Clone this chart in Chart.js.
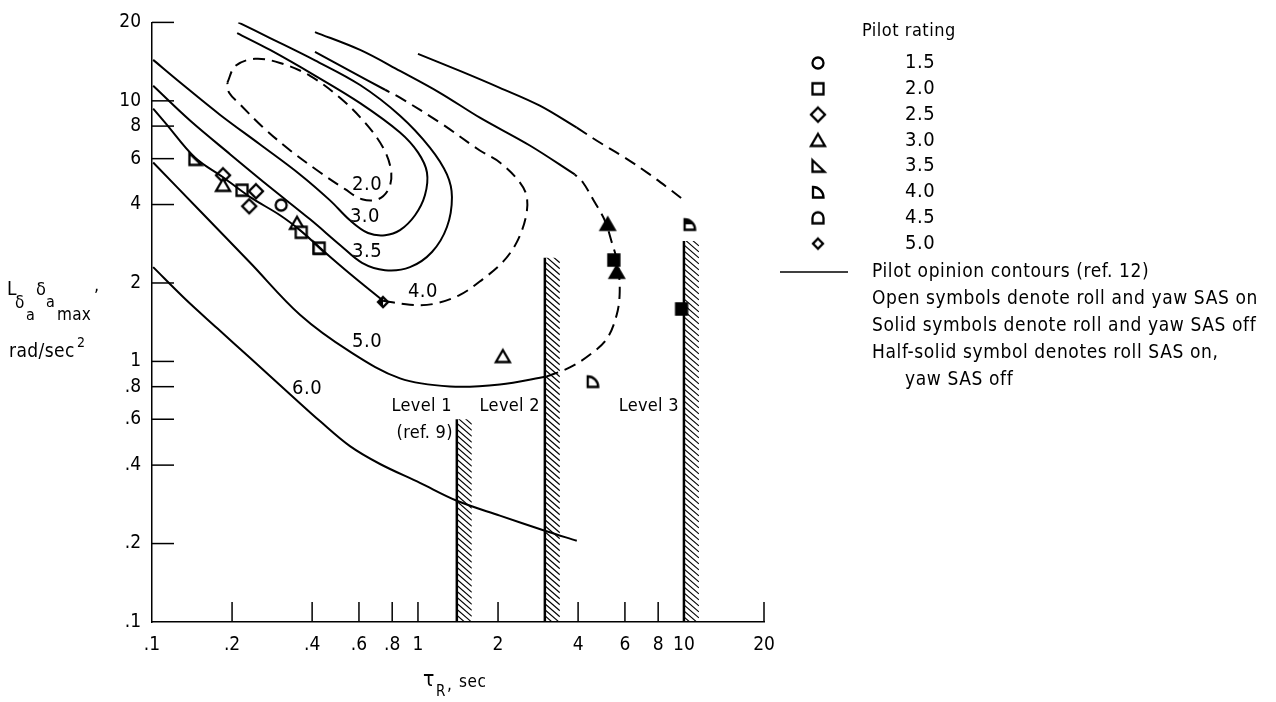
<!DOCTYPE html>
<html>
<head>
<meta charset="utf-8">
<script src="https://cdn.jsdelivr.net/npm/chart.js@4.4.1/dist/chart.umd.min.js"></script>
<style>
  html, body { margin: 0; padding: 0; background: #fff; }
  canvas { display: block; }
</style>
</head>
<body>
<canvas id="myChart" width="1276" height="702"></canvas>
<script>
var FONT = '"DejaVu Sans Condensed", "Liberation Sans Narrow", "Liberation Sans", sans-serif';

// axis ticks (log-log, both axes)
var xTickVals = [0.1, 0.2, 0.4, 0.6, 0.8, 1, 2, 4, 6, 8, 10, 20];
var xTickLabels = ['.1', '.2', '.4', '.6', '.8', '1', '2', '4', '6', '8', '10', '20'];
var yTickVals = [0.1, 0.2, 0.4, 0.6, 0.8, 1, 2, 4, 6, 8, 10, 20];
var yTickLabels = ['.1', '.2', '.4', '.6', '.8', '1', '2', '4', '6', '8', '10', '20'];

// pilot ratings shown in the key
var ratings = ['1.5', '2.0', '2.5', '3.0', '3.5', '4.0', '4.5', '5.0'];

// open symbols: roll and yaw SAS on
var onTau    = [0.145, 0.185, 0.185, 0.218, 0.246, 0.232, 0.306, 0.351, 0.364, 0.425, 0.425, 2.085, 4.54];
var onL      = [5.96, 5.18, 4.74, 4.54, 4.50, 3.94, 3.98, 3.39, 3.13, 2.72, 2.72, 1.044, 0.838];
var onRating = ['3.5', '2.5', '3.0', '2.0', '2.5', '2.5', '1.5', '3.0', '2.0', '2.0', '3.5', '3.0', '4.0'];

// solid symbols: roll and yaw SAS off
var offTau    = [5.17, 5.45, 5.59, 9.8];
var offL      = [3.36, 2.45, 2.20, 1.59];
var offRating = ['3.0', '2.0', '3.0', '2.0'];

// half-solid symbols: roll SAS on, yaw SAS off
var halfTau    = [0.739, 10.5];
var halfL      = [1.69, 3.36];
var halfRating = ['5.0', '4.0'];

// pilot opinion contours [tau, L]
var c20 = [[0.192, 11.73], [0.206, 13.62], [0.244, 14.49], [0.303, 13.98], [0.393, 12.47], [0.509, 10.28],
           [0.632, 8.25], [0.739, 6.62], [0.792, 5.41], [0.778, 4.62], [0.708, 4.19], [0.616, 4.19],
           [0.532, 4.58], [0.429, 5.31], [0.331, 6.45], [0.260, 7.96], [0.215, 9.66], [0.195, 10.74], [0.192, 11.73]];
var c30 = [[0.101, 14.36], [0.128, 11.73], [0.180, 8.85], [0.255, 6.80], [0.360, 5.22], [0.467, 4.15],
           [0.555, 3.48], [0.649, 3.11], [0.752, 3.05], [0.856, 3.19], [0.975, 3.64], [1.062, 4.34],
           [1.081, 5.31], [1.000, 6.34], [0.856, 7.56], [0.606, 9.80], [0.410, 12.50], [0.278, 15.68], [0.209, 18.20]];
var c35 = [[0.101, 11.42], [0.139, 8.40], [0.197, 6.23], [0.278, 4.66], [0.393, 3.51], [0.509, 2.80],
           [0.616, 2.39], [0.752, 2.24], [0.933, 2.30], [1.129, 2.63], [1.285, 3.28], [1.342, 4.27],
           [1.285, 5.22], [1.109, 6.62], [0.856, 8.77], [0.606, 11.50], [0.410, 14.30], [0.278, 17.42], [0.211, 20.0]];
var c40Solid = [[0.101, 9.33], [0.112, 8.25], [0.145, 6.06], [0.185, 5.09], [0.234, 4.27], [0.303, 3.64],
                [0.360, 3.19], [0.429, 2.72], [0.555, 2.17], [0.739, 1.71]];
var c40Dashed = [[0.739, 1.71], [0.933, 1.65], [1.138, 1.66], [1.438, 1.80], [1.754, 2.07], [2.086, 2.41],
                 [2.353, 2.87], [2.544, 3.58], [2.566, 4.27], [2.415, 4.87], [2.032, 5.80], [1.709, 6.45],
                 [1.209, 8.25], [0.856, 10.28], [0.752, 11.03]];
var c40Upper = [[0.752, 11.03], [0.555, 13.03], [0.410, 15.40]];
var c50Solid = [[0.101, 5.80], [0.152, 3.77], [0.234, 2.39], [0.360, 1.51], [0.555, 1.09], [0.856, 0.861],
                [1.319, 0.802], [2.032, 0.816], [3.051, 0.876]];
var c50Dashed = [[3.051, 0.876], [3.723, 0.948], [4.425, 1.06], [5.126, 1.22], [5.588, 1.51], [5.735, 1.85],
                 [5.636, 2.37], [5.352, 2.87], [5.038, 3.48], [4.620, 4.08], [4.166, 4.87], [3.887, 5.22]];
var c50Upper = [[3.887, 5.22], [2.634, 6.74], [1.709, 8.62], [1.209, 10.74], [0.856, 13.03], [0.606, 15.68], [0.410, 18.36]];
var c60Lower = [[0.101, 2.30], [0.133, 1.74], [0.176, 1.34], [0.234, 1.03], [0.331, 0.747], [0.429, 0.589],
                [0.555, 0.473], [0.720, 0.404], [1.017, 0.342], [1.401, 0.292], [2.032, 0.256], [3.00, 0.224], [3.955, 0.205]];
var c60Upper = [[1.000, 15.14], [1.438, 13.03], [2.032, 11.22], [2.872, 9.58], [3.955, 7.89]];
var c60UpperDashed = [[3.955, 7.89], [4.825, 6.92], [5.988, 6.06], [7.433, 5.22], [8.837, 4.58], [10.24, 4.08]];

// contour labels and where they sit
var contourLabels = ['2.0', '3.0', '3.5', '4.0', '5.0', '6.0'];
var contourLabelTau = [0.644, 0.632, 0.644, 1.044, 0.644, 0.383];
var contourLabelL = [4.78, 3.58, 2.63, 1.85, 1.19, 0.788];

// handling-quality level boundaries
var levelTau = [1.4, 3.0, 10];
var levelTop = [0.6, 2.5, 2.9];
var levelNames = ['Level 1', 'Level 2', 'Level 3'];

// marker look for each rating
var shapeOf = { '1.5': 'circle', '2.0': 'square', '2.5': 'diamond', '3.0': 'triangle',
                '3.5': 'rtri', '4.0': 'quarter', '4.5': 'arch', '5.0': 'sdiamond' };
var halfSide = ['left', 'top'];

function shapePath(g, shape) {
  g.beginPath();
  if (shape === 'circle') {
    g.arc(0, 0, 5.5, 0, Math.PI * 2);
  } else if (shape === 'square') {
    g.rect(-5.5, -5.5, 11, 11);
  } else if (shape === 'diamond') {
    g.moveTo(0, -7); g.lineTo(7, 0); g.lineTo(0, 7); g.lineTo(-7, 0); g.closePath();
  } else if (shape === 'triangle') {
    g.moveTo(0, -6.5); g.lineTo(7, 5.5); g.lineTo(-7, 5.5); g.closePath();
  } else if (shape === 'rtri') {
    g.moveTo(-5.5, -6); g.lineTo(6.5, 5.5); g.lineTo(-5.5, 5.5); g.closePath();
  } else if (shape === 'quarter') {
    g.moveTo(-5, 5.5); g.lineTo(-5, -5); g.arc(-5, 5.5, 10.5, -Math.PI / 2, 0); g.closePath();
  } else if (shape === 'arch') {
    g.moveTo(-5.5, 5.5); g.lineTo(-5.5, 0); g.arc(0, 0, 5.5, Math.PI, 0); g.lineTo(5.5, 5.5); g.closePath();
  } else {
    g.moveTo(0, -5); g.lineTo(5, 0); g.lineTo(0, 5); g.lineTo(-5, 0); g.closePath();
  }
}

function marker(shape, fill) {
  var c = document.createElement('canvas');
  c.width = 22; c.height = 22;
  var g = c.getContext('2d');
  g.translate(11, 11);
  g.lineWidth = 2.3;
  g.strokeStyle = '#000';
  shapePath(g, shape);
  g.fillStyle = fill === 'solid' ? '#000' : '#fff';
  g.fill();
  if (fill === 'left' || fill === 'top') {
    g.save();
    g.clip();
    g.fillStyle = '#000';
    if (fill === 'left') g.fillRect(-11, -11, 11, 22);
    else g.fillRect(-11, -11, 22, 11);
    g.restore();
  }
  shapePath(g, shape);
  g.stroke();
  return c;
}

function toXY(pts) {
  return pts.map(function (p) { return { x: p[0], y: p[1] }; });
}

function curve(pts, dashed) {
  return {
    data: toXY(pts), showLine: true, borderColor: '#000', borderWidth: 2,
    borderDash: dashed ? [12, 7] : [], pointRadius: 0, tension: 0.35, fill: false
  };
}

function symbols(tau, l, rat, fills) {
  return {
    data: tau.map(function (t, i) { return { x: t, y: l[i] }; }),
    showLine: false, pointRadius: 6,
    pointStyle: rat.map(function (r, i) { return marker(shapeOf[r], fills[i]); })
  };
}

var datasets = [
  curve(c20, true), curve(c30, false), curve(c35, false),
  curve(c40Solid, false), curve(c40Dashed, true), curve(c40Upper, false),
  curve(c50Solid, false), curve(c50Dashed, true), curve(c50Upper, false),
  curve(c60Lower, false), curve(c60Upper, false), curve(c60UpperDashed, true)
];
levelTau.forEach(function (t, i) {
  var d = curve([[t, 0.1], [t, levelTop[i]]], false);
  d.borderWidth = 2.5;
  d.tension = 0;
  datasets.push(d);
});
datasets.push(symbols(onTau, onL, onRating, onRating.map(function () { return 'open'; })));
datasets.push(symbols(offTau, offL, offRating, offRating.map(function () { return 'solid'; })));
datasets.push(symbols(halfTau, halfL, halfRating, halfSide));

function txt(ctx, s, x, y, size, align, base, spacing) {
  ctx.font = size + 'px ' + FONT;
  ctx.textAlign = align || 'left';
  ctx.textBaseline = base || 'alphabetic';
  ctx.letterSpacing = (spacing || 0) + 'px';
  ctx.fillText(s, x, y);
  ctx.letterSpacing = '0px';
}

var decorations = {
  id: 'decorations',
  afterDraw: function (chart) {
    var ctx = chart.ctx, xs = chart.scales.x, ys = chart.scales.y, area = chart.chartArea;
    ctx.save();
    ctx.strokeStyle = '#000';
    ctx.fillStyle = '#000';

    // inward tick marks
    ctx.lineWidth = 1.5;
    yTickVals.forEach(function (v) {
      if (v === 0.1) return;
      var p = ys.getPixelForValue(v);
      ctx.beginPath(); ctx.moveTo(area.left, p); ctx.lineTo(area.left + 22, p); ctx.stroke();
    });
    xTickVals.forEach(function (v) {
      if (v === 0.1) return;
      var p = xs.getPixelForValue(v);
      ctx.beginPath(); ctx.moveTo(p, area.bottom); ctx.lineTo(p, area.bottom - 20); ctx.stroke();
    });

    // hatching on the right of each level boundary
    ctx.lineWidth = 1.1;
    levelTau.forEach(function (t, i) {
      var px = xs.getPixelForValue(t);
      var top = ys.getPixelForValue(levelTop[i]);
      var bot = ys.getPixelForValue(0.1);
      ctx.save();
      ctx.beginPath(); ctx.rect(px, top, 15, bot - top); ctx.clip();
      for (var yy = top - 14; yy < bot; yy += 6) {
        ctx.beginPath(); ctx.moveTo(px, yy); ctx.lineTo(px + 15, yy + 13); ctx.stroke();
      }
      ctx.restore();
    });

    // contour labels
    contourLabels.forEach(function (s, i) {
      txt(ctx, s, xs.getPixelForValue(contourLabelTau[i]), ys.getPixelForValue(contourLabelL[i]), 20, 'center', 'middle', 0.5);
    });

    // level labels
    var ly = ys.getPixelForValue(0.672);
    levelNames.forEach(function (s, i) {
      txt(ctx, s, xs.getPixelForValue(levelTau[i]) - 5, ly, 18, 'right', 'middle', 0.3);
    });
    txt(ctx, '(ref. 9)', xs.getPixelForValue(levelTau[0]) - 4, ys.getPixelForValue(0.530), 18, 'right', 'middle', 0.3);

    // y axis title
    txt(ctx, 'L', 7, 295, 19);
    txt(ctx, '\u03b4', 15, 308, 17);
    txt(ctx, 'a', 26, 320, 16);
    txt(ctx, '\u03b4', 36, 295, 18);
    txt(ctx, 'a', 46, 307, 16);
    txt(ctx, 'max', 57, 320, 17, 'left', 'alphabetic', 0.3);
    txt(ctx, ',', 94, 291, 18);
    txt(ctx, 'rad/sec', 9, 357, 19, 'left', 'alphabetic', 0.4);
    txt(ctx, '2', 77, 347, 14);

    // x axis title
    txt(ctx, '\u03c4', 423, 686, 21);
    txt(ctx, 'R', 436, 696, 15);
    txt(ctx, ',', 447, 690, 17);
    txt(ctx, 'sec', 459, 687, 17, 'left', 'alphabetic', 0.5);

    // key
    txt(ctx, 'Pilot rating', 862, 31, 18, 'left', 'middle', 0.5);
    ratings.forEach(function (r, i) {
      var y = 63 + i * 25.8;
      var m = marker(shapeOf[r], 'open');
      ctx.drawImage(m, 818 - 11, y - 11);
      txt(ctx, r, 905, y, 20, 'left', 'middle', 0.5);
    });
    ctx.lineWidth = 1.5;
    ctx.beginPath(); ctx.moveTo(780, 272); ctx.lineTo(848, 272); ctx.stroke();
    txt(ctx, 'Pilot opinion contours (ref. 12)', 872, 272, 19, 'left', 'middle', 0.6);
    txt(ctx, 'Open symbols denote roll and yaw SAS on', 872, 299, 19, 'left', 'middle', 0.6);
    txt(ctx, 'Solid symbols denote roll and yaw SAS off', 872, 326, 19, 'left', 'middle', 0.6);
    txt(ctx, 'Half-solid symbol denotes roll SAS on,', 872, 353, 19, 'left', 'middle', 0.6);
    txt(ctx, 'yaw SAS off', 905, 380, 19, 'left', 'middle', 0.6);
    ctx.restore();
  }
};

new Chart('myChart', {
  type: 'scatter',
  data: { datasets: datasets },
  options: {
    responsive: false,
    animation: false,
    devicePixelRatio: 1,
    layout: { padding: { left: 0, top: 19, right: 512, bottom: 0 } },
    plugins: { legend: { display: false }, tooltip: { enabled: false } },
    scales: {
      x: {
        type: 'logarithmic', min: 0.1, max: 20, position: 'bottom',
        afterBuildTicks: function (s) { s.ticks = xTickVals.map(function (v) { return { value: v }; }); },
        afterFit: function (s) { s.height = 80; },
        grid: { display: false, drawTicks: false },
        border: { display: true, color: '#000', width: 1.5 },
        ticks: {
          color: '#000', padding: 12, autoSkip: false, maxRotation: 0,
          font: { family: FONT, size: 19 },
          callback: function (v, i) { return xTickLabels[i]; }
        }
      },
      y: {
        type: 'logarithmic', min: 0.1, max: 20, position: 'left',
        afterBuildTicks: function (s) { s.ticks = yTickVals.map(function (v) { return { value: v }; }); },
        afterFit: function (s) { s.width = 152; },
        grid: { display: false, drawTicks: false },
        border: { display: true, color: '#000', width: 1.5 },
        ticks: {
          color: '#000', padding: 11, autoSkip: false,
          font: { family: FONT, size: 19 },
          callback: function (v, i) { return yTickLabels[i]; }
        }
      }
    }
  },
  plugins: [decorations]
});
</script>
</body>
</html>
